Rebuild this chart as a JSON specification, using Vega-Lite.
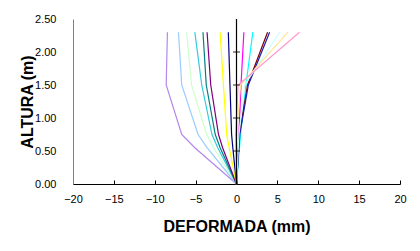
{
  "$schema": "https://vega.github.io/schema/vega-lite/v6.json",
  "width": 327,
  "height": 165,
  "autosize": {"type": "none"},
  "padding": {"left": 73, "top": 19, "right": 20, "bottom": 67},
  "background": "white",
  "config": {"view": {"stroke": null}, "font": "Liberation Sans"},
  "datasets": {
    "curves": [
      {"s": "A", "h": 0, "x": 0}, {"s": "A", "h": 0.55, "x": -5.1}, {"s": "A", "h": 0.75, "x": -6.7}, {"s": "A", "h": 1.5, "x": -8.6}, {"s": "A", "h": 2.3, "x": -8.45},
      {"s": "B", "h": 0, "x": 0}, {"s": "B", "h": 0.55, "x": -3.6}, {"s": "B", "h": 0.75, "x": -4.7}, {"s": "B", "h": 1.5, "x": -6.7}, {"s": "B", "h": 2.3, "x": -7.1},
      {"s": "C", "h": 0, "x": 0}, {"s": "C", "h": 0.55, "x": -2.8}, {"s": "C", "h": 0.75, "x": -3.65}, {"s": "C", "h": 1.5, "x": -5.5}, {"s": "C", "h": 2.3, "x": -6.1},
      {"s": "D", "h": 0, "x": 0}, {"s": "D", "h": 0.55, "x": -2.3}, {"s": "D", "h": 0.75, "x": -3.0}, {"s": "D", "h": 1.5, "x": -4.25}, {"s": "D", "h": 2.3, "x": -5.1},
      {"s": "E", "h": 0, "x": 0}, {"s": "E", "h": 0.55, "x": -2.0}, {"s": "E", "h": 0.75, "x": -2.6}, {"s": "E", "h": 1.5, "x": -3.7}, {"s": "E", "h": 2.3, "x": -4.1},
      {"s": "F", "h": 0, "x": 0}, {"s": "F", "h": 0.55, "x": -1.7}, {"s": "F", "h": 0.75, "x": -2.2}, {"s": "F", "h": 1.5, "x": -3.15}, {"s": "F", "h": 2.3, "x": -3.6},
      {"s": "G", "h": 0, "x": 0}, {"s": "G", "h": 0.55, "x": -0.9}, {"s": "G", "h": 0.75, "x": -1.2}, {"s": "G", "h": 1.5, "x": -1.6}, {"s": "G", "h": 2.3, "x": -2.0},
      {"s": "H", "h": 0, "x": 0}, {"s": "H", "h": 0.55, "x": -0.45}, {"s": "H", "h": 0.75, "x": -0.6}, {"s": "H", "h": 1.5, "x": -0.8}, {"s": "H", "h": 2.3, "x": -1.0},
      {"s": "I", "h": 0, "x": 0}, {"s": "I", "h": 0.75, "x": 0.3}, {"s": "I", "h": 1.5, "x": 0.55}, {"s": "I", "h": 2.3, "x": 0.9},
      {"s": "J", "h": 0, "x": 0}, {"s": "J", "h": 0.75, "x": 0.5}, {"s": "J", "h": 1.5, "x": 1.15}, {"s": "J", "h": 2.3, "x": 2.0},
      {"s": "K", "h": 0, "x": 0}, {"s": "K", "h": 0.75, "x": 0.35}, {"s": "K", "h": 1.5, "x": 1.35}, {"s": "K", "h": 2.3, "x": 3.8},
      {"s": "L", "h": 0, "x": 0}, {"s": "L", "h": 0.75, "x": 0.4}, {"s": "L", "h": 1.5, "x": 1.45}, {"s": "L", "h": 2.3, "x": 4.05},
      {"s": "M", "h": 0, "x": 0}, {"s": "M", "h": 0.75, "x": 0.3}, {"s": "M", "h": 1.5, "x": 1.0}, {"s": "M", "h": 2.3, "x": 5.3},
      {"s": "N", "h": 0, "x": 0}, {"s": "N", "h": 0.75, "x": 0.0}, {"s": "N", "h": 1.5, "x": 0.5}, {"s": "N", "h": 2.3, "x": 6.3},
      {"s": "O", "h": 0, "x": 0}, {"s": "O", "h": 0.75, "x": -0.1}, {"s": "O", "h": 1.5, "x": 0.2}, {"s": "O", "h": 2.3, "x": 7.7}
    ],
    "ref": [
      {"h": 0, "x": 0}, {"h": 0.5, "x": 0}, {"h": 1.0, "x": 0}, {"h": 1.5, "x": 0}, {"h": 2.0, "x": 0}, {"h": 2.5, "x": 0}
    ]
  },
  "encoding": {
    "x": {"field": "x", "type": "quantitative",
          "scale": {"domain": [-20, 20], "nice": false, "zero": false},
          "axis": {"values": [-20, -15, -10, -5, 0, 5, 10, 15, 20], "format": "d", "grid": false,
                   "labelOverlap": false, "labelFlush": false, "labelBound": false,
                   "domainColor": "black", "tickColor": "black", "tickSize": -4, "labelPadding": 13,
                   "labelFontSize": 11, "labelColor": "black", "labelFont": "Liberation Sans",
                   "title": "DEFORMADA (mm)", "titleFontSize": 16, "titleFont": "Liberation Sans", "titleFontWeight": "bold",
                   "titleColor": "black", "titlePadding": 14}},
    "y": {"field": "h", "type": "quantitative",
          "scale": {"domain": [0, 2.5], "nice": false},
          "axis": {"values": [0, 0.5, 1, 1.5, 2, 2.5], "format": ".2f", "grid": false,
                   "labelOverlap": false, "labelFlush": false, "labelBound": false,
                   "domainColor": "#808080", "ticks": false, "labelPadding": 17,
                   "labelFontSize": 11, "labelColor": "black", "labelFont": "Liberation Sans",
                   "title": "ALTURA (m)", "titleFontSize": 16, "titleFont": "Liberation Sans", "titleFontWeight": "bold",
                   "titleColor": "black", "titlePadding": -1}}
  },
  "layer": [
    {
      "data": {"name": "curves"},
      "mark": {"type": "line", "strokeWidth": 1.2, "clip": false},
      "encoding": {
        "color": {"field": "s", "type": "nominal", "legend": null,
                  "scale": {"domain": ["A","B","C","D","E","F","G","H","I","J","K","L","M","N","O"],
                            "range": ["#B388EB","#99CCFF","#CCFFCC","#33CCDD","#008080","#800080","#FFFF00","#000080","#FF00FF","#00FFFF","#800000","#2020B0","#CCFFFF","#FFE699","#FF99CC"]}},
        "order": {"field": "h", "type": "quantitative"}
      }
    },
    {
      "data": {"name": "ref"},
      "mark": {"type": "line", "color": "black", "strokeWidth": 1.2},
      "encoding": {
        "order": {"field": "h", "type": "quantitative"}
      }
    },
    {
      "data": {"name": "ref"},
      "transform": [{"filter": "datum.h > 0 && datum.h < 2.5"}],
      "mark": {"type": "point", "shape": "stroke", "size": 50, "color": "black", "strokeWidth": 1.2, "filled": false},
      "encoding": {}
    }
  ]
}
